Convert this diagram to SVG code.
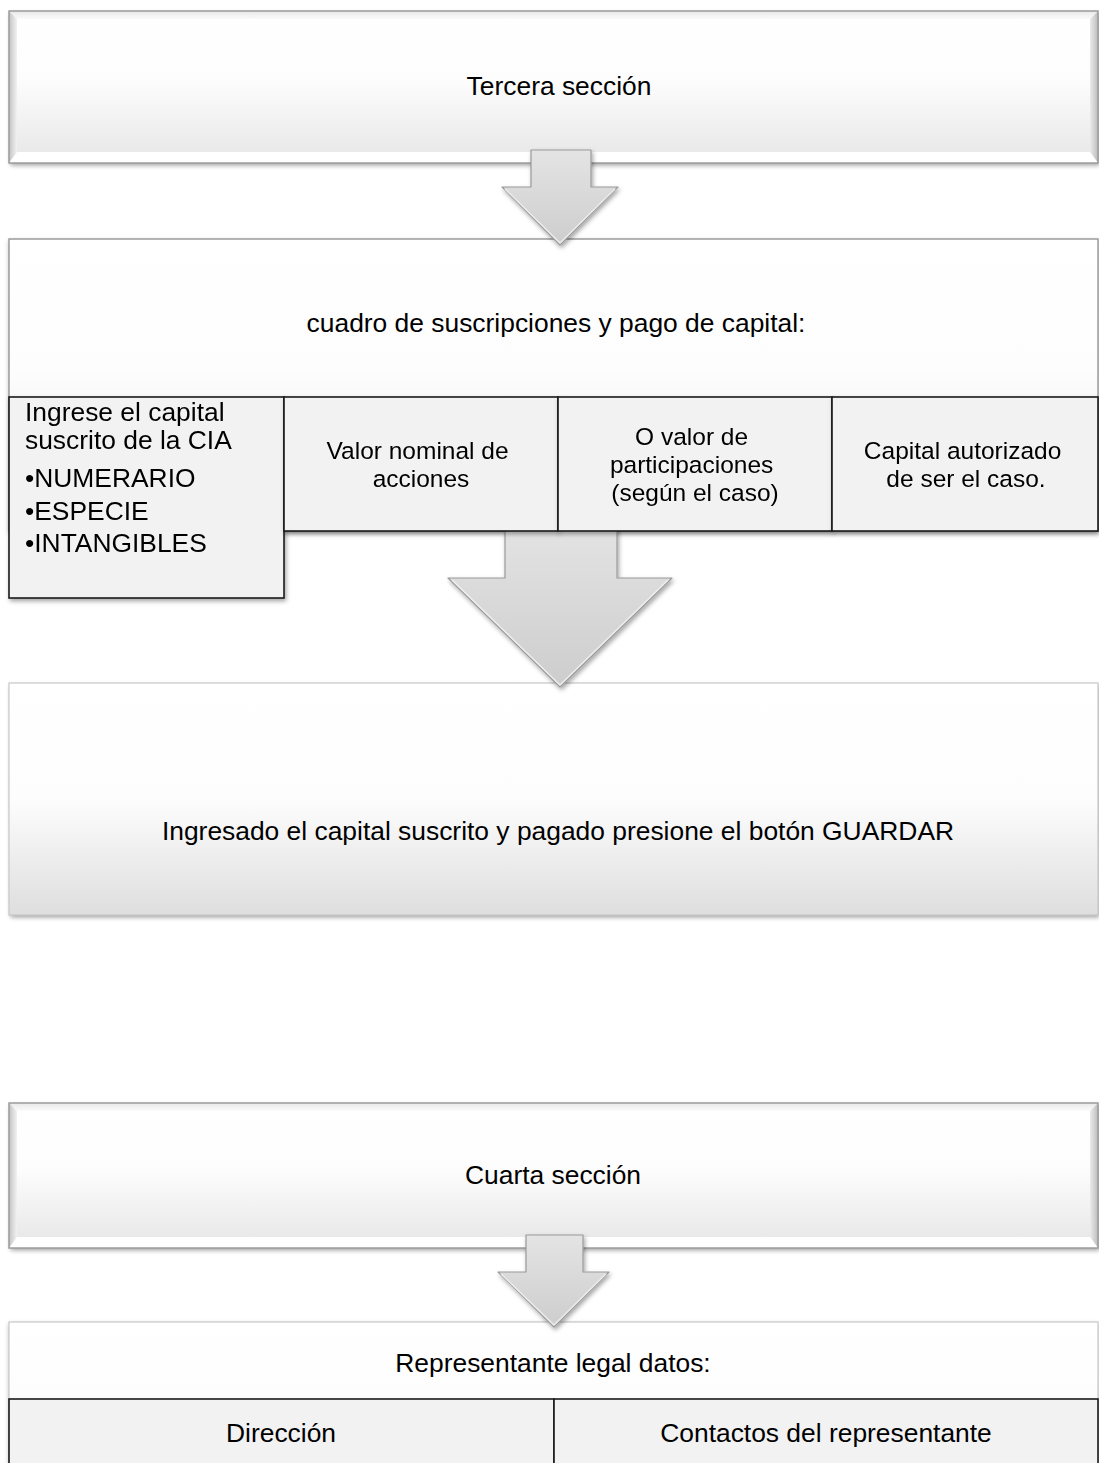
<svg xmlns="http://www.w3.org/2000/svg" width="1099" height="1463" viewBox="0 0 1099 1463">
  <defs>
    <linearGradient id="faceGrad" x1="0" y1="0" x2="0" y2="1">
      <stop offset="0" stop-color="#ffffff"/>
      <stop offset="0.45" stop-color="#fdfdfd"/>
      <stop offset="1" stop-color="#e6e6e6"/>
    </linearGradient>
    <linearGradient id="tallGrad" x1="0" y1="0" x2="0" y2="1">
      <stop offset="0" stop-color="#ffffff"/>
      <stop offset="0.5" stop-color="#fdfdfd"/>
      <stop offset="1" stop-color="#dedede"/>
    </linearGradient>
    <linearGradient id="arrowGrad" x1="0" y1="0" x2="0" y2="1">
      <stop offset="0" stop-color="#e4e4e4"/>
      <stop offset="1" stop-color="#cdcdcd"/>
    </linearGradient>
    <linearGradient id="leftRim" x1="0" y1="0" x2="1" y2="0">
      <stop offset="0" stop-color="#c4c4c4"/>
      <stop offset="1" stop-color="#f2f2f2"/>
    </linearGradient>
    <linearGradient id="rightRim" x1="1" y1="0" x2="0" y2="0">
      <stop offset="0" stop-color="#bdbdbd"/>
      <stop offset="1" stop-color="#ebebeb"/>
    </linearGradient>
    <linearGradient id="topRim" x1="0" y1="0" x2="0" y2="1">
      <stop offset="0" stop-color="#e8e8e8"/>
      <stop offset="1" stop-color="#fbfbfb"/>
    </linearGradient>
    <filter id="shadow" x="-5%" y="-10%" width="110%" height="130%">
      <feDropShadow dx="1.5" dy="2.5" stdDeviation="2" flood-color="#000" flood-opacity="0.35"/>
    </filter>
    <filter id="softShadow" x="-5%" y="-10%" width="110%" height="130%">
      <feDropShadow dx="0" dy="2" stdDeviation="2.5" flood-color="#000" flood-opacity="0.3"/>
    </filter>
  </defs>
  <style>
    .lbl { font-family: "Liberation Sans", Arial, sans-serif; font-size: 26.4px; fill: #000; }
    .sm { font-size: 24.5px; }
    .mid { text-anchor: middle; }
    .edge { fill: none; stroke: #9c9c9c; stroke-width: 1.5; }
    .cell { fill: #f2f2f2; stroke: #1a1a1a; stroke-width: 1.6; }
    .arrow { fill: url(#arrowGrad); stroke: #9a9a9a; stroke-width: 1.2; stroke-linejoin: round; }
    .hl { fill: none; stroke: #f4f4f4; stroke-width: 1.5; stroke-linejoin: round; opacity: 0.8; }
  </style>

  <rect width="1099" height="1463" fill="#ffffff"/>

  <!-- Section 3 header: bevelled panel -->
  <g id="tercera">
    <rect x="9" y="11" width="1089" height="152" fill="url(#faceGrad)" filter="url(#shadow)"/>
    <polygon points="9,11 1098,11 1090,19 17,19" fill="url(#topRim)"/>
    <polygon points="9,11 17,19 17,152 9,163" fill="url(#leftRim)"/>
    <polygon points="1098,11 1098,163 1090,152 1090,19" fill="url(#rightRim)"/>
    <polygon points="9,163 17,152 1090,152 1098,163" fill="#ffffff"/>
    <rect x="9" y="11" width="1089" height="152" class="edge"/>
    <text x="559" y="95" class="lbl mid">Tercera sección</text>
  </g>

  <!-- Capital subscription panel -->
  <g id="cuadro">
    <rect x="9" y="239" width="1089" height="292" fill="url(#faceGrad)" filter="url(#softShadow)"/>
    <rect x="9" y="239" width="1089" height="292" class="edge"/>
    <text x="556" y="332" class="lbl mid">cuadro de suscripciones y pago de capital:</text>
  </g>

  <!-- Save step -->
  <g id="guardar">
    <rect x="9" y="683" width="1089" height="232" fill="url(#tallGrad)" filter="url(#shadow)"/>
    <rect x="9" y="683" width="1089" height="232" fill="none" stroke="#c8c8c8" stroke-width="1.2"/>
    <text x="558" y="840" class="lbl mid">Ingresado el capital suscrito y pagado presione el botón GUARDAR</text>
  </g>

  <!-- Section 4 header: bevelled panel -->
  <g id="cuarta">
    <rect x="9" y="1103" width="1089" height="145" fill="url(#faceGrad)" filter="url(#shadow)"/>
    <polygon points="9,1103 1098,1103 1090,1111 17,1111" fill="url(#topRim)"/>
    <polygon points="9,1103 17,1111 17,1237 9,1248" fill="url(#leftRim)"/>
    <polygon points="1098,1103 1098,1248 1090,1237 1090,1111" fill="url(#rightRim)"/>
    <polygon points="9,1248 17,1237 1090,1237 1098,1248" fill="#ffffff"/>
    <rect x="9" y="1103" width="1089" height="145" class="edge"/>
    <text x="553" y="1184" class="lbl mid">Cuarta sección</text>
  </g>

  <!-- Legal representative panel -->
  <g id="representante">
    <rect x="9" y="1322" width="1089" height="160" fill="url(#faceGrad)" filter="url(#softShadow)"/>
    <rect x="9" y="1322" width="1089" height="160" fill="none" stroke="#c8c8c8" stroke-width="1.2"/>
    <text x="553" y="1372" class="lbl mid">Representante legal datos:</text>
  </g>

  <!-- Downward block arrows between steps -->
  <g id="connectors">
    <g filter="url(#shadow)">
      <polygon class="arrow" points="531,150 591,150 591,187 618,187 560,245 502,187 531,187"/>
      <polyline class="hl" points="505,189 560,243 615,189"/>
    </g>
    <g filter="url(#shadow)">
      <polygon class="arrow" points="505,520 617,520 617,578 672,578 560,687 448,578 505,578"/>
      <polyline class="hl" points="452,580 560,685 668,580"/>
    </g>
    <g filter="url(#shadow)">
      <polygon class="arrow" points="526,1235 583,1235 583,1272 609,1272 554,1327 498,1272 526,1272"/>
      <polyline class="hl" points="501,1274 554,1325 606,1274"/>
    </g>
  </g>

  <!-- Cells of the subscription panel -->
  <g id="capital-suscrito" filter="url(#shadow)">
    <rect x="9" y="397" width="275" height="201" class="cell"/>
    <text class="lbl">
      <tspan x="25" y="421">Ingrese el capital</tspan>
      <tspan x="25" y="449">suscrito de la CIA</tspan>
      <tspan x="25" y="487">•NUMERARIO</tspan>
      <tspan x="25" y="520">•ESPECIE</tspan>
      <tspan x="25" y="552">•INTANGIBLES</tspan>
    </text>
  </g>
  <g id="valor-nominal" filter="url(#shadow)">
    <rect x="284" y="397" width="274" height="134" class="cell"/>
    <text class="lbl sm mid">
      <tspan x="421" y="459">Valor nominal de</tspan>
      <tspan x="421" y="487">acciones</tspan>
    </text>
  </g>
  <g id="participaciones" filter="url(#shadow)">
    <rect x="558" y="397" width="274" height="134" class="cell"/>
    <text class="lbl sm mid">
      <tspan x="695" y="445">O valor de</tspan>
      <tspan x="695" y="473">participaciones</tspan>
      <tspan x="695" y="501">(según el caso)</tspan>
    </text>
  </g>
  <g id="capital-autorizado" filter="url(#shadow)">
    <rect x="832" y="397" width="266" height="134" class="cell"/>
    <text class="lbl sm mid">
      <tspan x="966" y="459">Capital autorizado</tspan>
      <tspan x="966" y="487">de ser el caso.</tspan>
    </text>
  </g>

  <!-- Cells of the representative panel -->
  <g id="direccion">
    <rect x="9" y="1399" width="545" height="80" class="cell"/>
    <text x="281" y="1442" class="lbl mid">Dirección</text>
  </g>
  <g id="contactos">
    <rect x="554" y="1399" width="544" height="80" class="cell"/>
    <text x="826" y="1442" class="lbl mid">Contactos del representante</text>
  </g>
</svg>
